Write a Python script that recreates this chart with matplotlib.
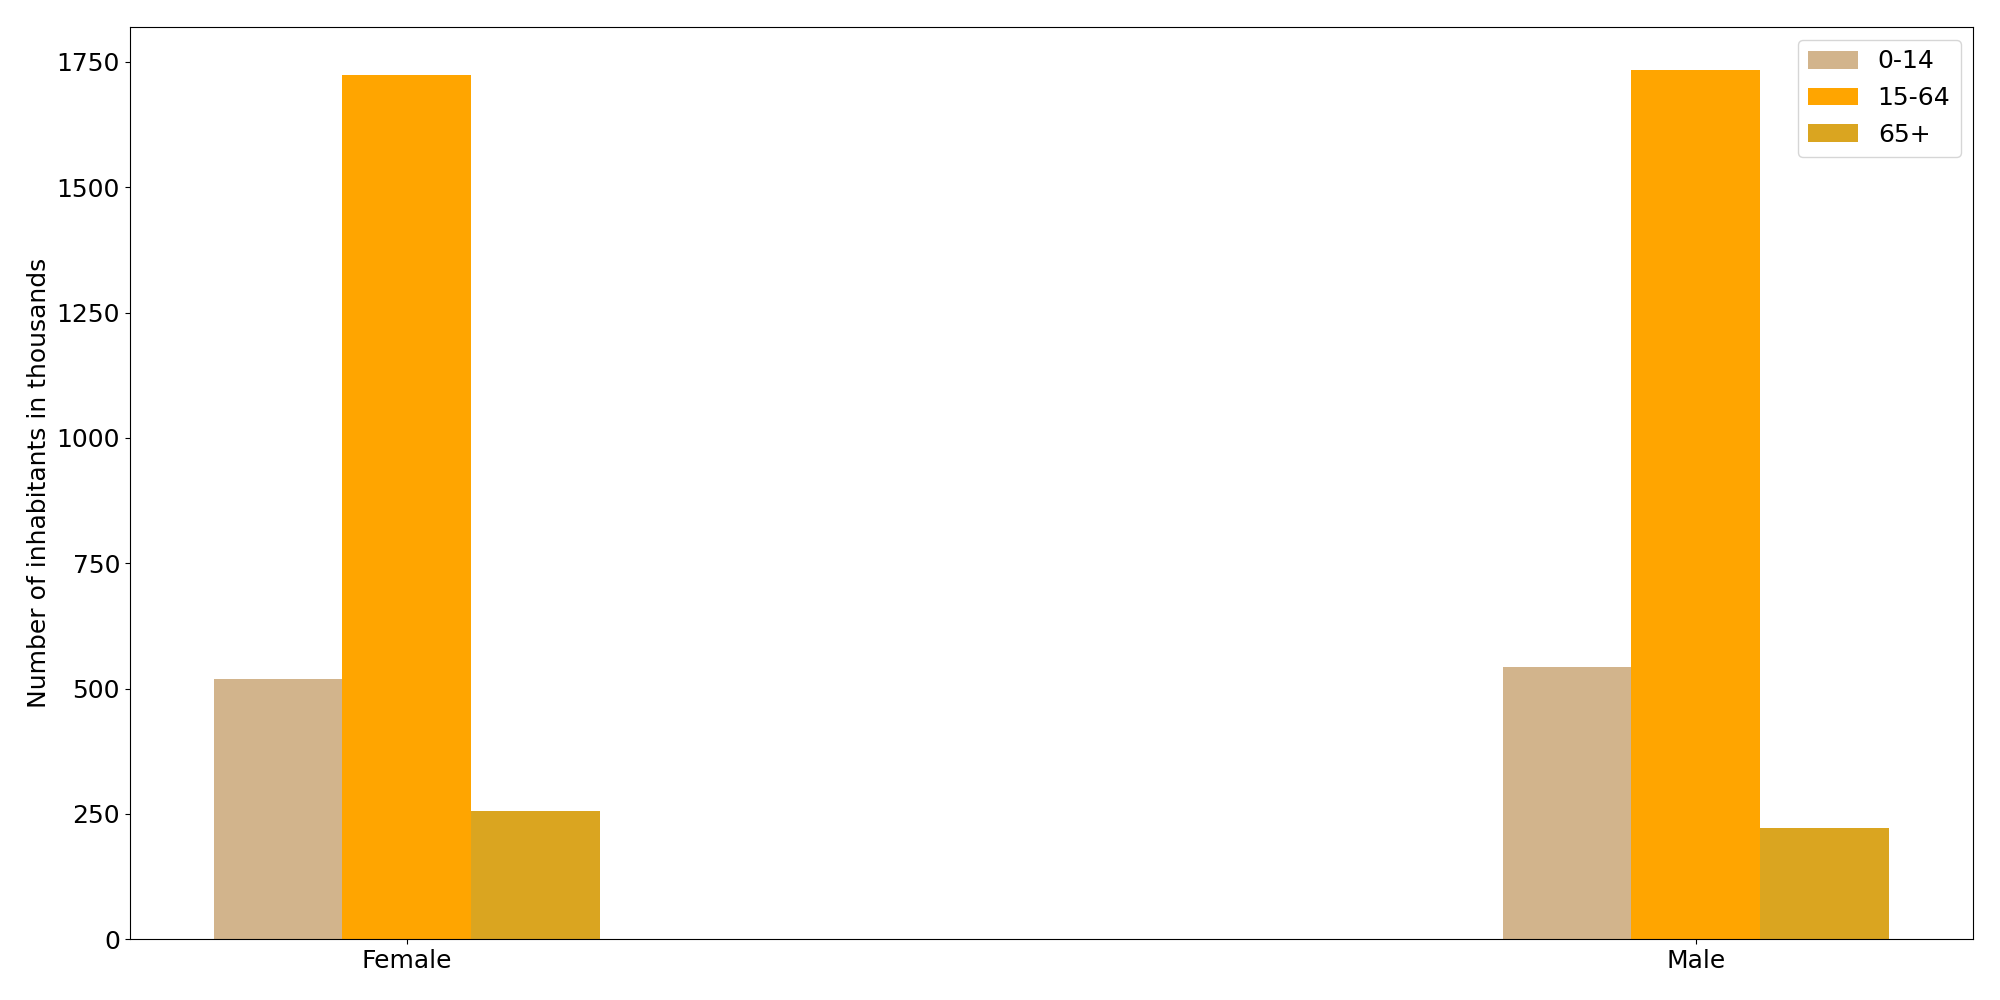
import matplotlib.pyplot as plt
import numpy as np

# population by sex and age group (thousands)
sexes = ['Female', 'Male']
age_groups = ['0-14', '15-64', '65+']
young = [520, 544]
working = [1723, 1733]
old = [255, 221]
colors = ['tan', 'orange', 'goldenrod']

plt.rcParams['font.size'] = 18

fig, ax = plt.subplots(figsize=(20, 10), dpi=100)

x = np.arange(len(sexes))
bar_width = 0.1

ax.bar(x - bar_width, young, width=bar_width, color=colors[0], label=age_groups[0])
ax.bar(x, working, width=bar_width, color=colors[1], label=age_groups[1])
ax.bar(x + bar_width, old, width=bar_width, color=colors[2], label=age_groups[2])

ax.set_xticks(x)
ax.set_xticklabels(sexes)
ax.set_ylabel('Number of inhabitants in thousands')
ax.legend(loc='upper right')

plt.tight_layout()
plt.savefig('out.png')
